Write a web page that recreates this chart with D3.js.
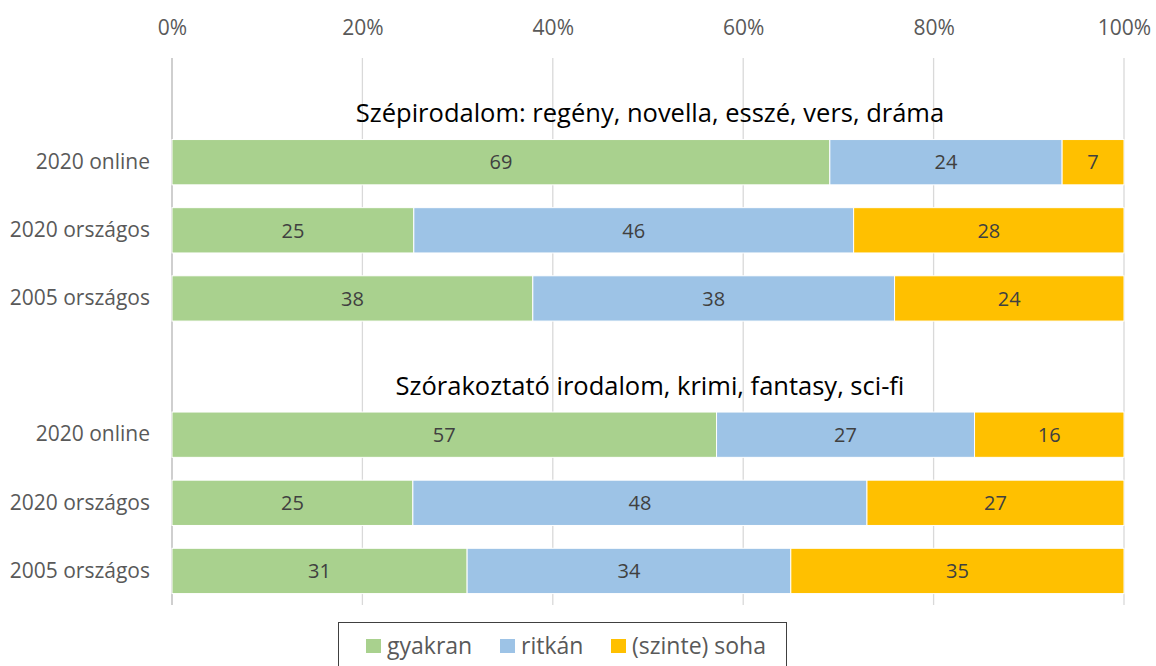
<!DOCTYPE html>
<html><head><meta charset="utf-8">
<script src="https://cdn.jsdelivr.net/npm/d3@7"></script>
<style>body{margin:0;background:#fff;} svg{display:block;font-family:'Open Sans',sans-serif;}</style>
</head><body>
<svg id="c" width="1156" height="666"></svg>
<script>
const rowKeys = ["t1","a1","a2","a3","t2","b1","b2","b3"];
const rowLabels = {t1:"",a1:"2020 online",a2:"2020 országos",a3:"2005 országos",t2:"",b1:"2020 online",b2:"2020 országos",b3:"2005 országos"};
const barRows = ["a1","a2","a3","b1","b2","b3"];
const gyakran = [69.1, 25.4, 37.9, 57.2, 25.3, 31.0];
const ritkan  = [24.4, 46.2, 38.0, 27.1, 47.7, 34.0];
const soha    = [6.5, 28.4, 24.1, 15.7, 27.0, 35.0];
const seriesNames = ["gyakran","ritkán","(szinte) soha"];
const seriesColors = ["#A9D18E","#9DC3E6","#FFC000"];
const groupTitles = ["Szépirodalom: regény, novella, esszé, vers, dráma","Szórakoztató irodalom, krimi, fantasy, sci-fi"];
const titleRows = ["t1","t2"];
const xTicks = [0,20,40,60,80,100];

const FONT = "'Open Sans',sans-serif";
const svg = d3.select("#c");
const x = d3.scaleLinear().domain([0,100]).range([172,1124]);
const y = d3.scaleBand().domain(rowKeys).range([60,605]).paddingInner(0.335).paddingOuter(0.1675);

// gridlines
svg.append("g").selectAll("line").data(xTicks.slice(1)).join("line")
  .attr("x1",d=>x(d)).attr("x2",d=>x(d)).attr("y1",58).attr("y2",605)
  .attr("stroke","#d9d9d9").attr("stroke-width",1.3);
svg.append("line").attr("x1",x(0)).attr("x2",x(0)).attr("y1",58).attr("y2",605)
  .attr("stroke","#bfbfbf").attr("stroke-width",1.5);

// top axis labels
const ax = d3.axisTop(x).tickValues(xTicks).tickFormat(d=>d+"%").tickSize(0).tickPadding(0);
const axg = svg.append("g").attr("transform","translate(0,35)").call(ax);
axg.select(".domain").remove();
axg.selectAll("text").attr("font-size",21).attr("fill","#595959").attr("font-family",FONT);

// category labels
const yl = d3.axisLeft(y).tickFormat(d=>rowLabels[d]).tickSize(0).tickPadding(0);
const ylg = svg.append("g").attr("transform","translate(150,0)").call(yl);
ylg.select(".domain").remove();
ylg.selectAll("text").attr("font-size",21).attr("fill","#595959").attr("font-family",FONT);

// stacked data
const table = barRows.map((r,i)=>({row:r, s0:gyakran[i], s1:ritkan[i], s2:soha[i]}));
const stack = d3.stack().keys(["s0","s1","s2"])(table);
const g = svg.append("g");
stack.forEach((layer,li)=>{
  const lg = g.append("g");
  lg.selectAll("rect").data(layer).join("rect")
    .attr("x",d=>x(d[0])).attr("width",d=>x(d[1])-x(d[0]))
    .attr("y",d=>y(d.data.row)).attr("height",y.bandwidth())
    .attr("fill",seriesColors[li]).attr("stroke","#fff").attr("stroke-width",1);
  lg.selectAll("text").data(layer).join("text")
    .attr("x",d=>(x(d[0])+x(d[1]))/2).attr("y",d=>y(d.data.row)+y.bandwidth()/2)
    .attr("dy","0.36em").attr("text-anchor","middle").attr("font-size",20).attr("fill","#404040")
    .text(d=>Math.round(d[1]-d[0]));
});

// group titles
svg.append("g").selectAll("text").data(groupTitles).join("text")
  .attr("x",650).attr("y",(d,i)=>y(titleRows[i])+y.bandwidth()/2+28)
  .attr("text-anchor","middle").attr("font-size",25.5).attr("fill","#000").text(d=>d);

// legend
const leg = svg.append("g");
leg.append("rect").attr("x",338.5).attr("y",622.5).attr("width",448).attr("height",60)
  .attr("fill","#fff").attr("stroke","#404040").attr("stroke-width",1);
const legX = [366, 500, 611];
seriesNames.forEach((n,i)=>{
  leg.append("rect").attr("x",legX[i]).attr("y",639).attr("width",15).attr("height",14).attr("fill",seriesColors[i]);
  leg.append("text").attr("x",legX[i]+21).attr("y",654).attr("font-size",23).attr("fill","#595959").text(n);
});
</script>
</body></html>
